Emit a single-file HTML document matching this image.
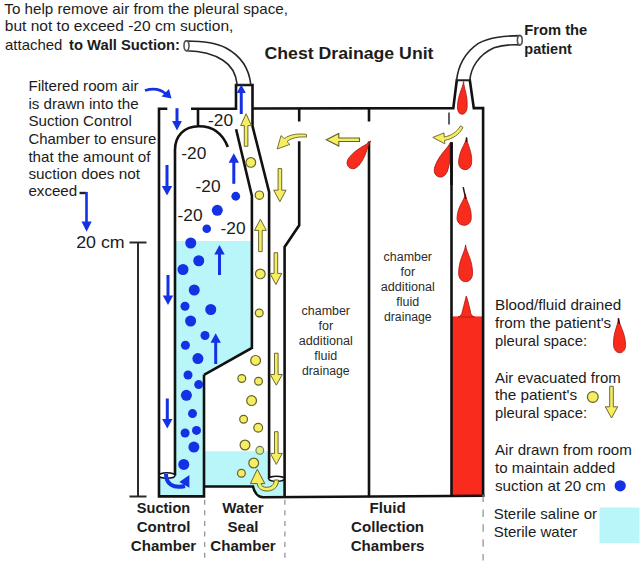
<!DOCTYPE html>
<html lang="en"><head><meta charset="utf-8"><title>Chest Drainage Unit</title>
<style>html,body{margin:0;padding:0;background:#fff}svg{display:block}text{font-family:"Liberation Sans",Arial,Helvetica,sans-serif}</style>
</head><body>
<svg width="644" height="564" viewBox="0 0 644 564">
<rect width="644" height="564" fill="#fff"/>
<g fill="#b8f6fa">
<path d="M175 241H252V348L204 375V496.4H159.5V476H175Z"/>
<path d="M204.5 451.2H268V479H284V497.5H262C257 496.5 254 491 253 486.5H204.5Z"/>
<rect x="599.5" y="507.5" width="40" height="35.5"/>
</g>
<rect x="451.5" y="316.4" width="31.6" height="179.8" fill="#f82b1c"/>
<g fill="none" stroke="#111" stroke-width="2.6" stroke-linejoin="miter" stroke-linecap="butt">
<path d="M167.3 108.7H159V496.4H204V374.8"/>
<path d="M191 108.7H236V85H252.5V126L269.1 192V479"/>
<path d="M198 108.5V126"/>
<path d="M175 475.5V150C175 136 184 126.2 199 126.2C213 126.2 222.5 133 227.8 147"/>
<path d="M236.1 129.2L251.9 196V348L204 374.8"/>
<path d="M252.5 108.5L453.3 108.1L456.8 80H469.8L473.8 108.1H483.1V496.4"/>
<path d="M204 486.5H253C254 491 257 497.2 263 497.2L484.4 495.8"/>
<path d="M299.2 108.5V121.5"/>
<path d="M299.2 141.3V225.3L284.6 247V497.2"/>
<path d="M369 108.5V121.5"/>
<path d="M369 141.5V496.8"/>
<path d="M451.5 142.3V496.4"/>
</g>
<path d="M449 112.6V124.4" stroke="#3a3a3a" stroke-width="1.6" fill="none"/>
<ellipse cx="167" cy="475.5" rx="8" ry="2.8" fill="#fff" stroke="#111" stroke-width="1.4"/>
<ellipse cx="276.5" cy="478.8" rx="7.8" ry="2.6" fill="#fff" stroke="#111" stroke-width="1.4"/>
<g fill="#fff" stroke="#262626" stroke-width="1.6">
<path d="M186.5 41C200 41 215 42 226 48C241 56 249 68 250.8 84.5L237.2 84.5C236 74 232 66 222.9 60.3C214 54.5 200 51 186.5 50.8Z"/>
<ellipse cx="186.5" cy="45.8" rx="2.5" ry="4.9" stroke="#555"/>
<path d="M456.7 80C458 67 464.5 52.5 478.4 43.4C490 36.8 505 36 519.8 35.6L519.8 44.9C511 44.4 502 45.2 494 47.7C478 55 471 68 469.8 80Z"/>
<ellipse cx="519.8" cy="40.25" rx="2.4" ry="4.65" stroke="#555"/>
</g>
<path d="M129.5 242.5H146.5M138 242.5V496.5M129.5 496.5H146.5" stroke="#2a2a2a" stroke-width="2" fill="none"/>
<g stroke="#8e8e8e" stroke-width="1.2" fill="none">
<path d="M204.7 499.7V558" stroke-dasharray="5 5.6"/><path d="M284.9 499.7V558" stroke-dasharray="5 5.6"/><path d="M483.1 494.5V560.5" stroke-dasharray="7.5 7.4"/>
</g>
<circle cx="235.75" cy="196.25" r="4.4" fill="#1431e3"/>
<circle cx="217.3" cy="210.3" r="5.5" fill="#1431e3"/>
<circle cx="206.75" cy="228.75" r="4.3" fill="#1431e3"/>
<circle cx="190.75" cy="243" r="5.5" fill="#1431e3"/>
<circle cx="198.75" cy="260.75" r="5.5" fill="#1431e3"/>
<circle cx="183" cy="269.5" r="5.5" fill="#1431e3"/>
<circle cx="194.25" cy="290" r="5.5" fill="#1431e3"/>
<circle cx="185" cy="306.25" r="4.5" fill="#1431e3"/>
<circle cx="210.75" cy="309.5" r="5.5" fill="#1431e3"/>
<circle cx="190.6" cy="321" r="5.5" fill="#1431e3"/>
<circle cx="205" cy="335.5" r="4.5" fill="#1431e3"/>
<circle cx="185.4" cy="345.3" r="4.5" fill="#1431e3"/>
<circle cx="197.9" cy="358.6" r="5.5" fill="#1431e3"/>
<circle cx="188" cy="375" r="4.5" fill="#1431e3"/>
<circle cx="198.7" cy="384.6" r="4.5" fill="#1431e3"/>
<circle cx="186.4" cy="395.3" r="5.5" fill="#1431e3"/>
<circle cx="192.5" cy="413.6" r="4.5" fill="#1431e3"/>
<circle cx="185.1" cy="433" r="4.5" fill="#1431e3"/>
<circle cx="196.5" cy="430.4" r="4.5" fill="#1431e3"/>
<circle cx="193.9" cy="447.1" r="5.5" fill="#1431e3"/>
<circle cx="183.8" cy="464.4" r="5.5" fill="#1431e3"/>
<path d="M177 108.2V121.9" stroke="#1431e3" stroke-width="3" fill="none"/>
<path d="M172.1 120.9L181.9 120.9L177 130.5Z" fill="#1431e3"/>
<path d="M167 165V187.1" stroke="#1431e3" stroke-width="3" fill="none"/>
<path d="M161.8 186.1L172.2 186.1L167 195.5Z" fill="#1431e3"/>
<path d="M168 275V296.6" stroke="#1431e3" stroke-width="3" fill="none"/>
<path d="M162.8 295.6L173.2 295.6L168 305Z" fill="#1431e3"/>
<path d="M167.3 398.5V420.1" stroke="#1431e3" stroke-width="3" fill="none"/>
<path d="M162.10000000000002 419.1L172.5 419.1L167.3 428.5Z" fill="#1431e3"/>
<path d="M241.25 114V92.0" stroke="#1431e3" stroke-width="3" fill="none"/>
<path d="M236.75 93.0L245.75 93.0L241.25 84.5Z" fill="#1431e3"/>
<path d="M233.8 183.8V161.70000000000002" stroke="#1431e3" stroke-width="3" fill="none"/>
<path d="M228.60000000000002 162.70000000000002L239.0 162.70000000000002L233.8 153.3Z" fill="#1431e3"/>
<path d="M219.5 275V253.4" stroke="#1431e3" stroke-width="3" fill="none"/>
<path d="M214.3 254.4L224.7 254.4L219.5 245Z" fill="#1431e3"/>
<path d="M215.7 364V341.7" stroke="#1431e3" stroke-width="3" fill="none"/>
<path d="M210.5 342.7L220.89999999999998 342.7L215.7 333.3Z" fill="#1431e3"/>
<path d="M79.5 193H86.5" stroke="#223" stroke-width="2.4" fill="none"/>
<path d="M86.5 192V223" stroke="#1431e3" stroke-width="2.6" fill="none"/>
<path d="M81.5 221.5H91.7L86.6 231.7Z" fill="#1431e3"/>
<path d="M145 90.5C153 88 161 89.5 166 94" stroke="#1431e3" stroke-width="2.6" fill="none"/>
<path d="M171.5 98.5L161.5 96.5L169 89Z" fill="#1431e3"/>
<path d="M166 474C166 483.5 172.5 489 185 486" stroke="#1431e3" stroke-width="4" fill="none"/>
<path d="M189.4 475L179.3 482L189.4 487.8Z" fill="#1431e3"/>
<circle cx="250.8" cy="162.4" r="4.8500000000000005" fill="#f5ed62" stroke="#66622a" stroke-width="1.2"/>
<circle cx="259.4" cy="195.2" r="4.2" fill="#f5ed62" stroke="#66622a" stroke-width="1.2"/>
<circle cx="260.3" cy="273.9" r="4.8500000000000005" fill="#f5ed62" stroke="#66622a" stroke-width="1.2"/>
<circle cx="259.25" cy="313" r="3.9" fill="#f5ed62" stroke="#66622a" stroke-width="1.2"/>
<circle cx="255.6" cy="360.4" r="4.9" fill="#f5ed62" stroke="#66622a" stroke-width="1.2"/>
<circle cx="241.8" cy="378.5" r="3.9" fill="#f5ed62" stroke="#66622a" stroke-width="1.2"/>
<circle cx="258.5" cy="381.2" r="3.9" fill="#f5ed62" stroke="#66622a" stroke-width="1.2"/>
<circle cx="251.6" cy="400.6" r="4.9" fill="#f5ed62" stroke="#66622a" stroke-width="1.2"/>
<circle cx="243.6" cy="419.2" r="3.9" fill="#f5ed62" stroke="#66622a" stroke-width="1.2"/>
<circle cx="258.2" cy="427.7" r="4.4" fill="#f5ed62" stroke="#66622a" stroke-width="1.2"/>
<circle cx="245" cy="445" r="4.9" fill="#f5ed62" stroke="#66622a" stroke-width="1.2"/>
<circle cx="253.7" cy="463" r="4.9" fill="#f5ed62" stroke="#66622a" stroke-width="1.2"/>
<circle cx="241.4" cy="473.2" r="3.9" fill="#f5ed62" stroke="#66622a" stroke-width="1.2"/>
<circle cx="259.8" cy="450.3" r="3.9" fill="#d9ef8e" stroke="#6c7a4a" stroke-width="1.1"/>
<circle cx="592.8" cy="397" r="5.4" fill="#f5ed62" stroke="#66622a" stroke-width="1.2"/>
<path d="M244.29999999999998 146.3L247.9 146.3L247.9 125.6L251.5 125.6L246.1 113.8L240.7 125.6L244.29999999999998 125.6Z" fill="#f5ed62" stroke="#66622a" stroke-width="0.95" stroke-linejoin="miter"/>
<path d="M258.59999999999997 251.6L262.2 251.6L262.2 230.39999999999998L266.29999999999995 230.39999999999998L260.4 219.2L254.49999999999997 230.39999999999998L258.59999999999997 230.39999999999998Z" fill="#f5ed62" stroke="#66622a" stroke-width="0.95" stroke-linejoin="miter"/>
<path d="M278.09999999999997 168.6L281.7 168.6L281.7 190.2L286.09999999999997 190.2L279.9 201.7L273.7 190.2L278.09999999999997 190.2Z" fill="#f5ed62" stroke="#66622a" stroke-width="0.95" stroke-linejoin="miter"/>
<path d="M274.09999999999997 252.7L277.7 252.7L277.7 273.40000000000003L281.79999999999995 273.40000000000003L275.9 284.6L270.0 273.40000000000003L274.09999999999997 273.40000000000003Z" fill="#f5ed62" stroke="#66622a" stroke-width="0.95" stroke-linejoin="miter"/>
<path d="M274.5 353.2L278.1 353.2L278.1 374.5L282.3 374.5L276.3 385.2L270.3 374.5L274.5 374.5Z" fill="#f5ed62" stroke="#66622a" stroke-width="0.95" stroke-linejoin="miter"/>
<path d="M274.5 431.7L278.1 431.7L278.1 453.4L282.3 453.4L276.3 464.4L270.3 453.4L274.5 453.4Z" fill="#f5ed62" stroke="#66622a" stroke-width="0.95" stroke-linejoin="miter"/>
<path d="M609.7 386.3L613.3 386.3L613.3 406.8L617.7 406.8L611.5 418L605.3 406.8L609.7 406.8Z" fill="#f5ed62" stroke="#66622a" stroke-width="0.95" stroke-linejoin="miter"/>
<path d="M359.5 138H338.8V133.4L326.3 139.7L338.8 146V141.5H359.5Z" fill="#f5ed62" stroke="#66622a" stroke-width="1.1"/>
<path d="M306.5 134.4C298 133.4 290 134.3 284.3 138.6L281 135.6L277.2 149L290 144.4L287 141.6C291.5 138 298 136.4 306.5 137.1Z" fill="#f5ed62" stroke="#66622a" stroke-width="0.9"/>
<path d="M463 127.5C459.5 134.5 452.5 139 444.6 140.4L444.8 143.8L432.8 137.4L444 132.9L444.2 137C451 135.8 457 132 460.6 125.8Z" fill="#f5ed62" stroke="#66622a" stroke-width="0.9"/>
<path d="M278.5 480C278.5 488 272 491.5 266 491C260 490.5 257.5 487 257.3 483.6L250.4 483.6L257.3 469.3L264.8 483.6L261 483.6C261.5 486 263.5 487.3 266.5 487.3C271 487.3 274.3 485 274.3 480Z" fill="#f5ed62" stroke="#66622a" stroke-width="1"/>
<path transform="translate(463.6 81.5) rotate(3)" d="M0 0C0.78 7.85 4.85 13.08 4.85 25.18C4.85 29.76 2.72 32.70 0 32.70C-2.72 32.70 -4.85 29.76 -4.85 25.18C-4.85 13.08 -0.78 7.85 0 0Z" fill="#f82b1c" stroke="#a8170f" stroke-width="0.8"/>
<path transform="translate(370.6 141) rotate(39)" d="M0 0C1.00 8.16 6.25 13.60 6.25 26.18C6.25 30.94 3.50 34.00 0 34.00C-3.50 34.00 -6.25 30.94 -6.25 26.18C-6.25 13.60 -1.00 8.16 0 0Z" fill="#f82b1c" stroke="#a8170f" stroke-width="0.8"/>
<path transform="translate(450.6 142.2) rotate(19.5)" d="M0 0C1.06 8.78 6.60 14.64 6.60 28.18C6.60 33.31 3.70 36.60 0 36.60C-3.70 36.60 -6.60 33.31 -6.60 28.18C-6.60 14.64 -1.06 8.78 0 0Z" fill="#f82b1c" stroke="#a8170f" stroke-width="0.8"/>
<path d="M451.5 142.3V185" stroke="#111" stroke-width="2.6" fill="none"/>
<path transform="translate(466.6 137.4) rotate(3.4)" d="M0 0C1.04 7.75 6.50 12.92 6.50 24.87C6.50 29.39 3.64 32.30 0 32.30C-3.64 32.30 -6.50 29.39 -6.50 24.87C-6.50 12.92 -1.04 7.75 0 0Z" fill="#f82b1c" stroke="#a8170f" stroke-width="0.8"/>
<path transform="translate(465.4 194) rotate(3)" d="M0 0C1.14 7.51 7.10 12.52 7.10 24.10C7.10 28.48 3.98 31.30 0 31.30C-3.98 31.30 -7.10 28.48 -7.10 24.10C-7.10 12.52 -1.14 7.51 0 0Z" fill="#f82b1c" stroke="#a8170f" stroke-width="0.8"/>
<path d="M463.2 187.2L465.8 199" stroke="#3a1210" stroke-width="1.5" fill="none"/>
<path transform="translate(465.6 244.9) rotate(0)" d="M0 0C1.11 8.83 6.95 14.72 6.95 28.34C6.95 33.49 3.89 36.80 0 36.80C-3.89 36.80 -6.95 33.49 -6.95 28.34C-6.95 14.72 -1.11 8.83 0 0Z" fill="#f82b1c" stroke="#a8170f" stroke-width="0.8"/>
<path d="M466.3 296C468.5 303 470 309 470.8 313.5C471.6 315.5 473 316.5 474.5 317H458C459.6 316.5 461 315.5 461.8 313.5C463 309 464.5 303 466.3 296Z" fill="#f82b1c" stroke="#a8170f" stroke-width="0.8"/>
<path transform="translate(618.4 318.2) rotate(-2.5)" d="M0 0C0.96 8.30 6.00 13.84 6.00 26.64C6.00 31.49 3.36 34.60 0 34.60C-3.36 34.60 -6.00 31.49 -6.00 26.64C-6.00 13.84 -0.96 8.30 0 0Z" fill="#f82b1c" stroke="#a8170f" stroke-width="0.8"/>
<path d="M618.4 318.4L619.3 324" stroke="#2a0d0b" stroke-width="1.5" fill="none"/>
<path d="M466.6 137.6L466.4 142" stroke="#3a1210" stroke-width="1.5" fill="none"/>
<text x="4.3" y="13.75" font-size="15.15" text-anchor="start" fill="#1c1c1c" textLength="283.7" lengthAdjust="spacingAndGlyphs">To help remove air from the pleural space,</text>
<text x="4.8" y="31.45" font-size="15.15" text-anchor="start" fill="#1c1c1c" textLength="228.6" lengthAdjust="spacingAndGlyphs">but not to exceed -20 cm suction,</text>
<text x="5" y="49.75" font-size="15.15" text-anchor="start" fill="#1c1c1c" textLength="57.4" lengthAdjust="spacingAndGlyphs">attached</text>
<text x="69.1" y="49.75" font-size="15.15" font-weight="bold" text-anchor="start" fill="#1c1c1c" textLength="110.9" lengthAdjust="spacingAndGlyphs">to Wall Suction:</text>
<text x="264.5" y="58.85" font-size="16" font-weight="bold" text-anchor="start" fill="#1c1c1c" textLength="169" lengthAdjust="spacingAndGlyphs">Chest Drainage Unit</text>
<text x="524.3" y="34.95" font-size="14.5" font-weight="bold" text-anchor="start" fill="#1c1c1c" textLength="63" lengthAdjust="spacingAndGlyphs">From the</text>
<text x="524.3" y="54.05" font-size="14.5" font-weight="bold" text-anchor="start" fill="#1c1c1c">patient</text>
<text x="28.4" y="91.05" font-size="15.15" text-anchor="start" fill="#1c1c1c">Filtered room air</text>
<text x="28.4" y="108.65" font-size="15.15" text-anchor="start" fill="#1c1c1c">is drawn into the</text>
<text x="28.4" y="126.25" font-size="15.15" text-anchor="start" fill="#1c1c1c">Suction Control</text>
<text x="28.4" y="144.15" font-size="15.15" text-anchor="start" fill="#1c1c1c" textLength="128.0" lengthAdjust="spacingAndGlyphs">Chamber to ensure</text>
<text x="28.4" y="161.75" font-size="15.15" text-anchor="start" fill="#1c1c1c">that the amount of</text>
<text x="28.4" y="179.05" font-size="15.15" text-anchor="start" fill="#1c1c1c" textLength="111.6" lengthAdjust="spacingAndGlyphs">suction does not</text>
<text x="28.4" y="196.05" font-size="15.15" text-anchor="start" fill="#1c1c1c">exceed</text>
<text x="76.2" y="248.15" font-size="17" text-anchor="start" fill="#1c1c1c" textLength="48.5" lengthAdjust="spacingAndGlyphs">20 cm</text>
<text x="208" y="126.2" font-size="17" text-anchor="start" fill="#1c1c1c" textLength="25" lengthAdjust="spacingAndGlyphs">-20</text>
<text x="181.25" y="159.2" font-size="17" text-anchor="start" fill="#1c1c1c" textLength="25" lengthAdjust="spacingAndGlyphs">-20</text>
<text x="195.5" y="191.7" font-size="17" text-anchor="start" fill="#1c1c1c" textLength="25" lengthAdjust="spacingAndGlyphs">-20</text>
<text x="177.5" y="220.95" font-size="17" text-anchor="start" fill="#1c1c1c" textLength="25" lengthAdjust="spacingAndGlyphs">-20</text>
<text x="220.5" y="234.2" font-size="17" text-anchor="start" fill="#1c1c1c" textLength="25" lengthAdjust="spacingAndGlyphs">-20</text>
<text x="407.8" y="260.95" font-size="12.5" text-anchor="middle" fill="#2c2c2c" textLength="48.4" lengthAdjust="spacingAndGlyphs">chamber</text>
<text x="407.8" y="276.0" font-size="12.5" text-anchor="middle" fill="#2c2c2c">for</text>
<text x="407.8" y="291.05" font-size="12.5" text-anchor="middle" fill="#2c2c2c" textLength="54.0" lengthAdjust="spacingAndGlyphs">additional</text>
<text x="407.8" y="306.1" font-size="12.5" text-anchor="middle" fill="#2c2c2c">fluid</text>
<text x="407.8" y="321.15" font-size="12.5" text-anchor="middle" fill="#2c2c2c" textLength="47.6" lengthAdjust="spacingAndGlyphs">drainage</text>
<text x="325.8" y="314.85" font-size="12.5" text-anchor="middle" fill="#2c2c2c" textLength="48.4" lengthAdjust="spacingAndGlyphs">chamber</text>
<text x="325.8" y="329.9" font-size="12.5" text-anchor="middle" fill="#2c2c2c">for</text>
<text x="325.8" y="344.95" font-size="12.5" text-anchor="middle" fill="#2c2c2c" textLength="54.0" lengthAdjust="spacingAndGlyphs">additional</text>
<text x="325.8" y="360.0" font-size="12.5" text-anchor="middle" fill="#2c2c2c">fluid</text>
<text x="325.8" y="375.05" font-size="12.5" text-anchor="middle" fill="#2c2c2c" textLength="47.6" lengthAdjust="spacingAndGlyphs">drainage</text>
<text x="495" y="310.35" font-size="15.15" text-anchor="start" fill="#1c1c1c" textLength="126.2" lengthAdjust="spacingAndGlyphs">Blood/fluid drained</text>
<text x="495" y="328.15" font-size="15.15" text-anchor="start" fill="#1c1c1c" textLength="116.2" lengthAdjust="spacingAndGlyphs">from the patient's</text>
<text x="495" y="345.75" font-size="15.15" text-anchor="start" fill="#1c1c1c" textLength="92" lengthAdjust="spacingAndGlyphs">pleural space:</text>
<text x="495" y="382.65" font-size="15.15" text-anchor="start" fill="#1c1c1c" textLength="125.7" lengthAdjust="spacingAndGlyphs">Air evacuated from</text>
<text x="495" y="400.45" font-size="15.15" text-anchor="start" fill="#1c1c1c" textLength="82.2" lengthAdjust="spacingAndGlyphs">the patient's</text>
<text x="495" y="418.15" font-size="15.15" text-anchor="start" fill="#1c1c1c" textLength="92" lengthAdjust="spacingAndGlyphs">pleural space:</text>
<text x="495" y="455.45" font-size="15.15" text-anchor="start" fill="#1c1c1c" textLength="136.8" lengthAdjust="spacingAndGlyphs">Air drawn from room</text>
<text x="495" y="473.45" font-size="15.15" text-anchor="start" fill="#1c1c1c" textLength="120.1" lengthAdjust="spacingAndGlyphs">to maintain added</text>
<text x="495" y="490.95" font-size="15.15" text-anchor="start" fill="#1c1c1c" textLength="110.8" lengthAdjust="spacingAndGlyphs">suction at 20 cm</text>
<circle cx="620.2" cy="485.8" r="5.6" fill="#1431e3"/>
<text x="493.7" y="519.45" font-size="15.15" text-anchor="start" fill="#1c1c1c" textLength="103.3" lengthAdjust="spacingAndGlyphs">Sterile saline or</text>
<text x="493.7" y="536.95" font-size="15.15" text-anchor="start" fill="#1c1c1c" textLength="83.6" lengthAdjust="spacingAndGlyphs">Sterile water</text>
<text x="163.5" y="513.25" font-size="15.1" font-weight="bold" text-anchor="middle" fill="#1c1c1c" textLength="53.3" lengthAdjust="spacingAndGlyphs">Suction</text>
<text x="163.5" y="531.8" font-size="15.1" font-weight="bold" text-anchor="middle" fill="#1c1c1c">Control</text>
<text x="163.5" y="551.35" font-size="15.1" font-weight="bold" text-anchor="middle" fill="#1c1c1c">Chamber</text>
<text x="243" y="513.25" font-size="15.1" font-weight="bold" text-anchor="middle" fill="#1c1c1c">Water</text>
<text x="243" y="531.8" font-size="15.1" font-weight="bold" text-anchor="middle" fill="#1c1c1c">Seal</text>
<text x="243" y="551.35" font-size="15.1" font-weight="bold" text-anchor="middle" fill="#1c1c1c">Chamber</text>
<text x="387.6" y="513.25" font-size="15.1" font-weight="bold" text-anchor="middle" fill="#1c1c1c">Fluid</text>
<text x="387.6" y="531.8" font-size="15.1" font-weight="bold" text-anchor="middle" fill="#1c1c1c">Collection</text>
<text x="387.6" y="551.35" font-size="15.1" font-weight="bold" text-anchor="middle" fill="#1c1c1c">Chambers</text>
</svg>
</body></html>
